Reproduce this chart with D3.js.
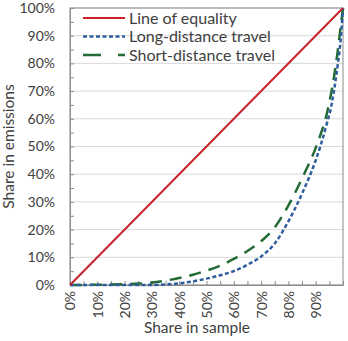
<!DOCTYPE html>
<html>
<head>
<meta charset="utf-8">
<script src="https://cdn.jsdelivr.net/npm/d3@7"></script>
<style>
  body { margin: 0; background: #fff; }
  svg text { font-family: Lato, "Open Sans", sans-serif; fill: #404040; }
</style>
</head>
<body>
<svg id="chart" width="348" height="341"></svg>
<script>
// share in sample (%), and cumulative share in emissions (%)
const equalX = [0, 100]
const equalY = [0, 100]

const longX = [0, 10, 20, 30, 35, 40, 45, 50, 55, 60, 65, 70, 75, 80, 85, 90, 92, 94, 96, 97, 98, 99, 100]
const longY = [0, 0, 0, 0, 0.2, 0.6, 1.3, 2.3, 3.5, 5, 7.3, 10.3, 15, 23, 33, 45, 51, 58, 66, 72, 79, 87, 100]

const shortX = [0, 10, 20, 25, 30, 35, 40, 45, 50, 55, 60, 65, 70, 75, 80, 85, 90, 92, 94, 95, 96, 97, 98, 99, 100]
const shortY = [0, 0.1, 0.3, 0.5, 0.9, 1.6, 2.5, 3.7, 5.2, 7, 9.4, 12.3, 15.8, 20.8, 28.7, 38.5, 49.5, 55, 61.5, 66, 71, 77, 84, 92, 100]

const seriesNames = ['Line of equality', 'Long-distance travel', 'Short-distance travel']
const yTicks = [0, 10, 20, 30, 40, 50, 60, 70, 80, 90, 100]
const xTicks = [0, 10, 20, 30, 40, 50, 60, 70, 80, 90]
const minorTicks = d3.range(0, 101, 5)

const svg = d3.select('#chart')
const pLeft = 70, pRight = 343, pTop = 8, pBottom = 285

let x = d3.scaleLinear().domain([0, 100]).range([pLeft, pRight])
let y = d3.scaleLinear().domain([0, 100]).range([pBottom, pTop])

// gridlines
svg.append('g')
  .selectAll('line')
  .data(yTicks)
  .enter()
  .append('line')
  .attr('x1', pLeft).attr('x2', pRight)
  .attr('y1', d => y(d)).attr('y2', d => y(d))
  .attr('stroke', '#d9d9d9')
  .attr('stroke-width', 1)

// frame
svg.append('rect')
  .attr('x', pLeft).attr('y', pTop)
  .attr('width', pRight - pLeft).attr('height', pBottom - pTop)
  .attr('fill', 'none')
  .attr('stroke', '#8c8c8c')
  .attr('stroke-width', 1)

// y axis
let yAxis = svg.append('g')
  .attr('transform', `translate(${pLeft},0)`)
  .call(d3.axisLeft(y).tickValues(yTicks).tickSize(0).tickPadding(15).tickFormat(d => d + '%'))
yAxis.select('.domain').attr('stroke', '#8c8c8c')
yAxis.selectAll('text').style('font-size', '14px')

svg.append('g')
  .attr('transform', `translate(${pLeft},0)`)
  .call(d3.axisLeft(y).tickValues(minorTicks).tickSize(-4).tickFormat(''))
  .call(g => g.select('.domain').remove())
  .selectAll('line').attr('stroke', '#8c8c8c')

// x axis
let xAxis = svg.append('g')
  .attr('transform', `translate(0,${pBottom})`)
  .call(d3.axisBottom(x).tickValues(xTicks).tickSize(0).tickFormat(d => d + '%'))
xAxis.select('.domain').attr('stroke', '#8c8c8c')
xAxis.selectAll('text')
  .style('font-size', '14px')
  .attr('transform', 'rotate(-90)')
  .attr('x', -6)
  .attr('y', 0)
  .attr('dy', '0.35em')
  .attr('text-anchor', 'end')

svg.append('g')
  .attr('transform', `translate(0,${pBottom})`)
  .call(d3.axisBottom(x).tickValues(minorTicks).tickSize(-4).tickFormat(''))
  .call(g => g.select('.domain').remove())
  .selectAll('line').attr('stroke', '#8c8c8c')

// axis titles
svg.append('text')
  .attr('transform', `translate(14,${(pTop + pBottom) / 2}) rotate(-90)`)
  .attr('text-anchor', 'middle')
  .style('font-size', '15.5px')
  .text('Share in emissions')

svg.append('text')
  .attr('x', 197)
  .attr('y', 333)
  .attr('text-anchor', 'middle')
  .style('font-size', '15.5px')
  .text('Share in sample')

// lines
let line = d3.line().x(d => x(d[0])).y(d => y(d[1])).curve(d3.curveMonotoneX)

const series = [
  { name: seriesNames[0], pts: d3.zip(equalX, equalY), color: '#c8232b', width: 2, dash: null, legendDash: null },
  { name: seriesNames[1], pts: d3.zip(longX, longY), color: '#2e5e9e', width: 2.5, dash: '4,2.5', legendDash: '4,2.5' },
  { name: seriesNames[2], pts: d3.zip(shortX, shortY), color: '#236b35', width: 2.5, dash: '12,8', legendDash: '18,17' }
]

// draw short first so long dotted sits on top
svg.append('g')
  .selectAll('path')
  .data([series[2], series[1], series[0]])
  .enter()
  .append('path')
  .attr('d', d => line(d.pts))
  .attr('fill', 'none')
  .attr('stroke', d => d.color)
  .attr('stroke-width', d => d.width)
  .attr('stroke-dasharray', d => d.dash)

// legend
let legend = svg.append('g')
series.forEach((s, i) => {
  let ly = 18 + i * 18.5
  legend.append('line')
    .attr('x1', 83).attr('x2', 125)
    .attr('y1', ly).attr('y2', ly)
    .attr('stroke', s.color)
    .attr('stroke-width', s.width)
    .attr('stroke-dasharray', s.legendDash)
  legend.append('text')
    .attr('x', 129)
    .attr('y', ly)
    .attr('dy', '0.35em')
    .style('font-size', '16px')
    .text(s.name)
})
</script>
</body>
</html>
